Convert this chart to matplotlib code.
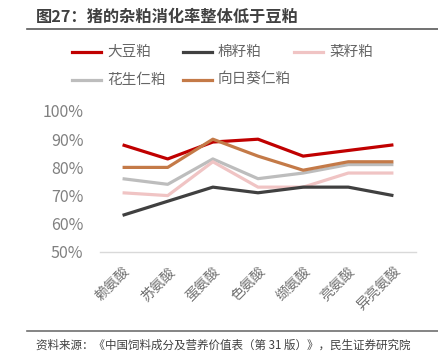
import matplotlib
matplotlib.use("Agg")
import matplotlib.pyplot as plt
from matplotlib.lines import Line2D

plt.rcParams['font.family'] = ['Noto Sans CJK SC', 'DejaVu Sans']

# data
categories = ["赖氨酸", "苏氨酸", "蛋氨酸", "色氨酸", "缬氨酸", "亮氨酸", "异亮氨酸"]
soybean   = [0.88, 0.83, 0.89, 0.90, 0.84, 0.86, 0.88]
cotton    = [0.63, 0.68, 0.73, 0.71, 0.73, 0.73, 0.70]
rapeseed  = [0.71, 0.70, 0.82, 0.73, 0.73, 0.78, 0.78]
peanut    = [0.76, 0.74, 0.83, 0.76, 0.78, 0.81, 0.81]
sunflower = [0.80, 0.80, 0.90, 0.84, 0.79, 0.82, 0.82]

series = [
    ("大豆粕", soybean, "#C00000"),
    ("棉籽粕", cotton, "#404040"),
    ("菜籽粕", rapeseed, "#F0C4C4"),
    ("花生仁粕", peanut, "#BDBDBD"),
    ("向日葵仁粕", sunflower, "#C47A48"),
]
# draw order (back to front)
draw_order = [3, 2, 1, 0, 4]

W, H = 438, 361
fig = plt.figure(figsize=(W / 100, H / 100), dpi=100)

# axes
ax = fig.add_axes([100 / W, 1 - 252 / H, 316 / W, 141 / H])
x = list(range(len(categories)))
for i in draw_order:
    name, vals, col = series[i]
    ax.plot(x, vals, color=col, lw=2.3, solid_capstyle="butt")

ax.set_xlim(-0.5, len(categories) - 0.5)
ax.set_ylim(0.5, 1.0)
ax.set_yticks([0.5, 0.6, 0.7, 0.8, 0.9, 1.0])
ax.set_yticklabels(["50%", "60%", "70%", "80%", "90%", "100%"])
ax.set_xticks(x)
ax.set_xticklabels(categories, rotation=45, ha="right", va="top",
                   rotation_mode="anchor")
ax.tick_params(axis="y", length=0, pad=12, labelsize=11.5, colors="#808080")
ax.tick_params(axis="x", length=0, pad=9, labelsize=10, colors="#707070")
for s in ["top", "right", "left"]:
    ax.spines[s].set_visible(False)
ax.spines["bottom"].set_color("#D9D9D9")
ax.spines["bottom"].set_linewidth(1)
ax.set_clip_on(False)

# legend, drawn by hand
leg_pos = [(72, 52), (183, 52), (294, 52), (72, 80), (183, 80)]
for (name, vals, col), (lx, ly) in zip(series, leg_pos):
    fig.add_artist(Line2D([lx / W, (lx + 29) / W], [1 - ly / H, 1 - ly / H],
                          color=col, lw=2.3, transform=fig.transFigure))
    fig.text((lx + 35) / W, 1 - ly / H, name, fontsize=10.5, color="#666666",
             va="center", ha="left")

# title and source
fig.text(36 / W, 1 - 17 / H, "图27：猪的杂粕消化率整体低于豆粕", fontsize=11.7,
         fontweight="bold", color="#404040", va="center", ha="left")
fig.add_artist(Line2D([27 / W, 1], [1 - 28.5 / H, 1 - 28.5 / H],
                      color="#595959", lw=1.2, transform=fig.transFigure))
fig.add_artist(Line2D([27 / W, 1], [1 - 331 / H, 1 - 331 / H],
                      color="#707070", lw=1.2, transform=fig.transFigure))
fig.text(36 / W, 1 - 345 / H,
         "资料来源：《中国饲料成分及营养价值表（第 31 版）》，民生证券研究院",
         fontsize=8.3, color="#404040", va="center", ha="left")

fig.savefig("out.png", dpi=100)
